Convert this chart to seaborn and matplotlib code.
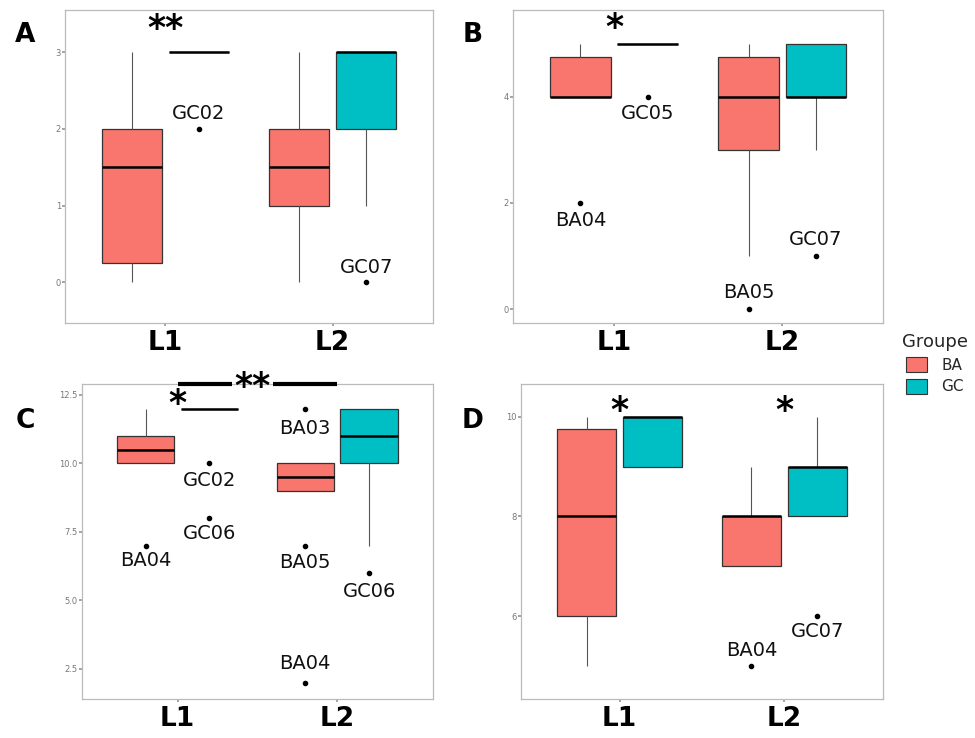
import numpy as np
import pandas as pd
import matplotlib
matplotlib.use("Agg")
import matplotlib.pyplot as plt
from matplotlib.patches import Patch
import seaborn as sns

# --- data ---
levels = ["L1", "L2"]
groups = ["BA", "GC"]

# panel A
a_l1_ba = [0, 0, 1, 2, 2, 3]
a_l1_gc = [2, 3, 3, 3, 3, 3]
a_l2_ba = [0, 1, 1, 2, 2, 3]
a_l2_gc = [0, 1, 2, 2, 3, 3, 3, 3, 3]
# panel B
b_l1_ba = [2, 4, 4, 4, 5, 5]
b_l1_gc = [4, 5, 5, 5, 5, 5]
b_l2_ba = [0, 1, 3, 3, 4, 4, 4, 5, 5, 5]
b_l2_gc = [1, 3, 4, 4, 4, 5, 5, 5, 5]
# panel C
c_l1_ba = [7, 10, 10, 11, 11, 12]
c_l1_gc = [8, 10, 12, 12, 12, 12, 12, 12, 12, 12]
c_l2_ba = [2, 7, 9, 9, 9, 10, 10, 10, 10, 12]
c_l2_gc = [6, 7, 10, 10, 11, 12, 12, 12, 12]
# panel D
d_l1_ba = [5, 6, 6, 6, 8, 8, 9, 10, 10, 10]
d_l1_gc = [9, 9, 10, 10, 10]
d_l2_ba = [5, 7, 7, 8, 8, 8, 9]
d_l2_gc = [6, 8, 8, 9, 9, 9, 10]

# labelled outliers: (level, group, value, label)
a_outliers = [("L1", "GC", 2, "GC02"), ("L2", "GC", 0, "GC07")]
b_outliers = [("L1", "GC", 4, "GC05"), ("L1", "BA", 2, "BA04"),
              ("L2", "GC", 1, "GC07"), ("L2", "BA", 0, "BA05")]
c_outliers = [("L1", "GC", 10, "GC02"), ("L1", "GC", 8, "GC06"),
              ("L1", "BA", 7, "BA04"), ("L2", "BA", 12, "BA03"),
              ("L2", "BA", 7, "BA05"), ("L2", "GC", 6, "GC06"),
              ("L2", "BA", 2, "BA04")]
d_outliers = [("L2", "GC", 6, "GC07"), ("L2", "BA", 5, "BA04")]

# significance marks: (x level index, y, text)
a_signif = [(0, 3.30, "**")]
b_signif = [(0, 5.29, "*")]
c_signif = [(0, 12.17, "*")]
d_signif = [(0, 10.12, "*"), (1, 10.12, "*")]


def make_df(l1_ba, l1_gc, l2_ba, l2_gc):
    rows = []
    for lev, grp, vals in [("L1", "BA", l1_ba), ("L1", "GC", l1_gc),
                           ("L2", "BA", l2_ba), ("L2", "GC", l2_gc)]:
        for v in vals:
            rows.append({"Level": lev, "Groupe": grp, "Value": v})
    return pd.DataFrame(rows)


panels = [
    ("A", make_df(a_l1_ba, a_l1_gc, a_l2_ba, a_l2_gc), a_outliers, a_signif, (-0.53, 3.55),
     [0, 1, 2, 3], ["0", "1", "2", "3"]),
    ("B", make_df(b_l1_ba, b_l1_gc, b_l2_ba, b_l2_gc), b_outliers, b_signif, (-0.26, 5.63),
     [0, 2, 4], ["0", "2", "4"]),
    ("C", make_df(c_l1_ba, c_l1_gc, c_l2_ba, c_l2_gc), c_outliers, c_signif, (1.39, 12.9),
     [2.5, 5, 7.5, 10, 12.5], ["2.5", "5.0", "7.5", "10.0", "12.5"]),
    ("D", make_df(d_l1_ba, d_l1_gc, d_l2_ba, d_l2_gc), d_outliers, d_signif, (4.33, 10.66),
     [6, 8, 10], ["6", "8", "10"]),
]

# label offsets in points (+ above, - below), per panel in outlier order
label_offsets = {
    "A": [11, 11],
    "B": [-12, -13, 12, 12],
    "C": [-12, -11, -11, -14, -12, -13, 14],
    "D": [-11, 11],
}

# axes boxes in figure fraction [left, bottom, width, height]
axes_pos = {
    "A": [0.0667, 0.5623, 0.3774, 0.4241],
    "B": [0.5262, 0.5623, 0.3795, 0.4241],
    "C": [0.0838, 0.0524, 0.3603, 0.4273],
    "D": [0.5340, 0.0524, 0.3720, 0.4273],
}
letter_pos = {"A": (0.026, 0.953), "B": (0.485, 0.953),
              "C": (0.026, 0.430), "D": (0.485, 0.430)}

palette = {"BA": "#F8766D", "GC": "#00BFC4"}

sns.set_theme(style="white")
plt.rcParams["font.family"] = ["DejaVu Sans"]

fig = plt.figure(figsize=(9.75, 7.38), dpi=100)

for name, df, outliers, signif, ylim, yticks, yticklabels in panels:
    ax = fig.add_axes(axes_pos[name])
    sns.boxplot(
        data=df, x="Level", y="Value", hue="Groupe",
        order=levels, hue_order=groups, palette=palette, saturation=1,
        width=0.8, gap=0.1, linecolor="#333333", linewidth=0.9,
        showcaps=False, fliersize=3,
        flierprops={"marker": "o", "markerfacecolor": "black",
                    "markeredgecolor": "black", "markersize": 3},
        medianprops={"color": "black", "linewidth": 1.8},
        whiskerprops={"color": "#555555", "linewidth": 0.8},
        legend=False, ax=ax,
    )
    ax.set_xlim(-0.6, 1.6)
    ax.set_ylim(*ylim)
    ax.set_yticks(yticks)
    ax.set_yticklabels(yticklabels)
    ax.set_xlabel("")
    ax.set_ylabel("")
    ax.tick_params(axis="y", labelsize=6, labelcolor="#777777", length=2,
                   color="#999999", left=True, pad=1)
    ax.tick_params(axis="x", labelsize=19, labelcolor="black", length=2,
                   color="#999999", bottom=True, pad=3)
    for lab in ax.get_xticklabels():
        lab.set_fontweight("bold")
    for sp in ax.spines.values():
        sp.set_color("#BBBBBB")
        sp.set_linewidth(0.9)

    # outlier labels
    for (lev, grp, val, lab), off in zip(outliers, label_offsets[name]):
        x = levels.index(lev) + (-0.2 if grp == "BA" else 0.2)
        ax.annotate(lab, (x, val), xytext=(0, off), textcoords="offset points",
                    ha="center", va="center", fontsize=14, color="#111111")

    # significance stars
    for xi, y, txt in signif:
        ax.text(xi, y, txt, ha="center", va="center", fontsize=25,
                fontweight="bold", color="black", clip_on=False, zorder=6)

    if name == "C":
        ytop = ylim[1]
        ax.plot([0, 0.34], [ytop, ytop], color="black", lw=3, clip_on=False,
                solid_capstyle="butt", zorder=6)
        ax.plot([0.6, 1.0], [ytop, ytop], color="black", lw=3, clip_on=False,
                solid_capstyle="butt", zorder=6)
        ax.text(0.47, ytop - 0.1, "**", ha="center", va="center", fontsize=25,
                fontweight="bold", color="black", clip_on=False, zorder=6)

    fig.text(*letter_pos[name], name, fontsize=19, fontweight="bold",
             color="black", ha="center", va="center")

handles = [Patch(facecolor=palette[g], edgecolor="#333333", linewidth=0.8) for g in groups]
fig.legend(handles, groups, title="Groupe", loc="center left",
           bbox_to_anchor=(0.914, 0.507), frameon=False, fontsize=11,
           title_fontsize=13, handlelength=1.4, handleheight=1.1,
           handletextpad=0.9, borderpad=0.2, labelspacing=0.4)

fig.savefig("out.png", dpi=100)
